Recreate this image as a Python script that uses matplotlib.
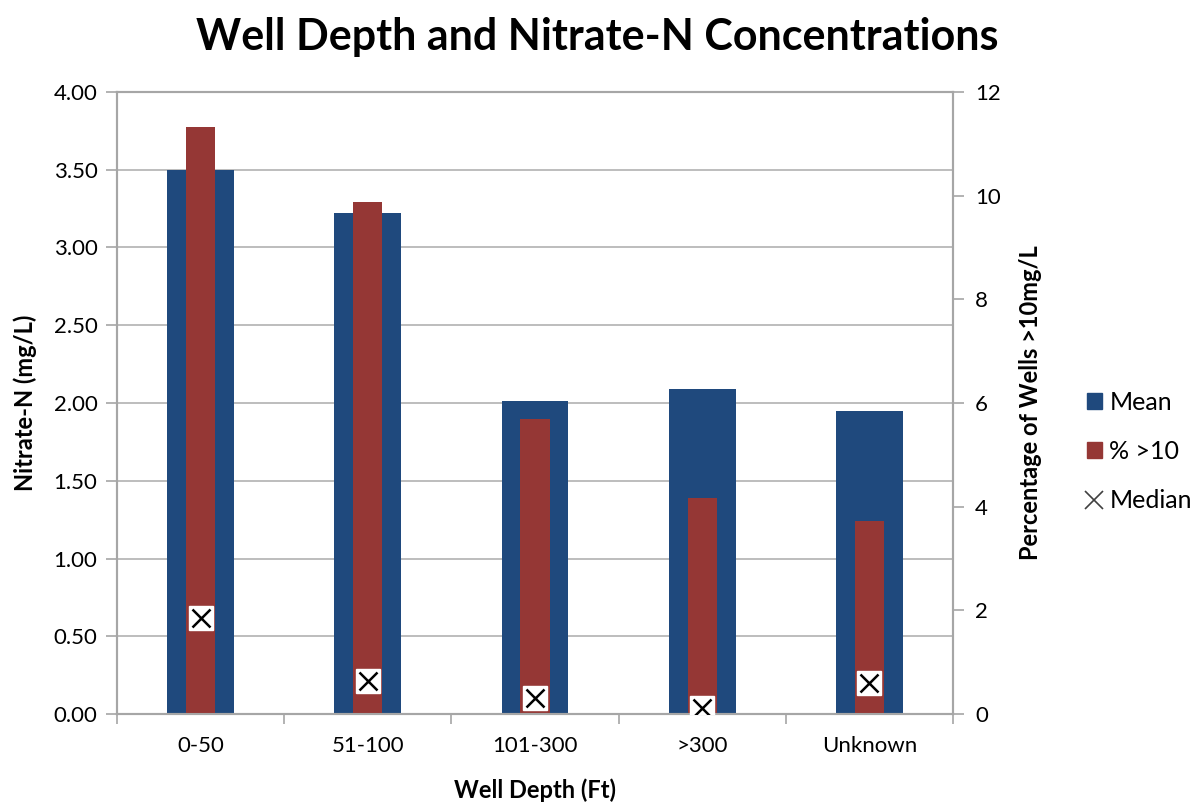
import matplotlib.pyplot as plt
import numpy as np
from matplotlib.lines import Line2D
from matplotlib.patches import Patch

depths = ["0-50", "51-100", "101-300", ">300", "Unknown"]
mean_n = [3.50, 3.22, 2.01, 2.09, 1.95]
median_n = [0.62, 0.21, 0.10, 0.04, 0.20]
pct_over_10 = [11.33, 9.87, 5.70, 4.17, 3.72]

blue = "#1F497D"
red = "#953735"
axis_grey = "#a6a6a6"

plt.rcParams["font.family"] = ["Lato", "DejaVu Sans"]

fig = plt.figure(figsize=(12.01, 8.06), dpi=100)
ax = fig.add_axes([0.0974, 0.1141, 0.6961, 0.7718])
ax2 = ax.twinx()

x = np.arange(len(depths))
ax.bar(x, mean_n, width=0.4, color=blue, zorder=2)
ax.set_ylim(0, 4)
ax.set_yticks(np.arange(0, 4.01, 0.5))
ax.set_yticklabels([f"{v:.2f}" for v in np.arange(0, 4.01, 0.5)])
ax.yaxis.grid(True, color="#b8b8b8", linewidth=1.3, zorder=0)
ax.set_axisbelow(True)
ax.set_xlim(-0.5, len(depths) - 0.5)

ax2.bar(x, pct_over_10, width=0.175, color=red, zorder=2)
ax2.set_ylim(0, 12)
ax2.set_yticks(range(0, 13, 2))

# medians sit on the percent axis but are read against the left scale
med_on_right = [m * 3 for m in median_n]
ax2.plot(x, med_on_right, linestyle="none", marker="s", markersize=17,
         markerfacecolor="white", markeredgecolor="white", zorder=5)
ax2.plot(x, med_on_right, linestyle="none", marker="x", markersize=13,
         markeredgewidth=1.8, color="black", zorder=6)

ax.set_xticks(x)
ax.set_xticklabels(depths)
ax.set_xticks(np.arange(-0.5, len(depths), 1), minor=True)
ax.tick_params(axis="x", which="major", length=0, pad=16, labelsize=16)
ax.tick_params(axis="x", which="minor", length=7, color=axis_grey, width=1.2)
ax.tick_params(axis="y", length=8, color=axis_grey, width=1.2, labelsize=16, pad=6)
ax2.tick_params(axis="y", length=8, color=axis_grey, width=1.2, labelsize=16, pad=8)

for a in (ax, ax2):
    for s in a.spines.values():
        s.set_color(axis_grey)
        s.set_linewidth(1.5)

ax.set_xlabel("Well Depth (Ft)", fontsize=17, fontweight="bold", labelpad=16)
ax.set_ylabel("Nitrate-N (mg/L)", fontsize=17, fontweight="bold", labelpad=12)
ax2.set_ylabel("Percentage of Wells >10mg/L", fontsize=17, fontweight="bold", labelpad=13)

fig.suptitle("Well Depth and Nitrate-N Concentrations", x=0.497, y=0.979,
             fontsize=31, fontweight="bold")

handles = [
    Patch(color=blue, label="Mean"),
    Patch(color=red, label="% >10"),
    Line2D([], [], linestyle="none", marker="x", color="#404040",
           markersize=13, markeredgewidth=1.2, label="Median"),
]
fig.legend(handles=handles, loc="center left", bbox_to_anchor=(0.905, 0.44),
           frameon=False, fontsize=18, handlelength=0.6, handleheight=0.6,
           handletextpad=0.3, labelspacing=1.05, borderaxespad=0, borderpad=0)

fig.savefig("out.png", dpi=100)
plt.close(fig)
